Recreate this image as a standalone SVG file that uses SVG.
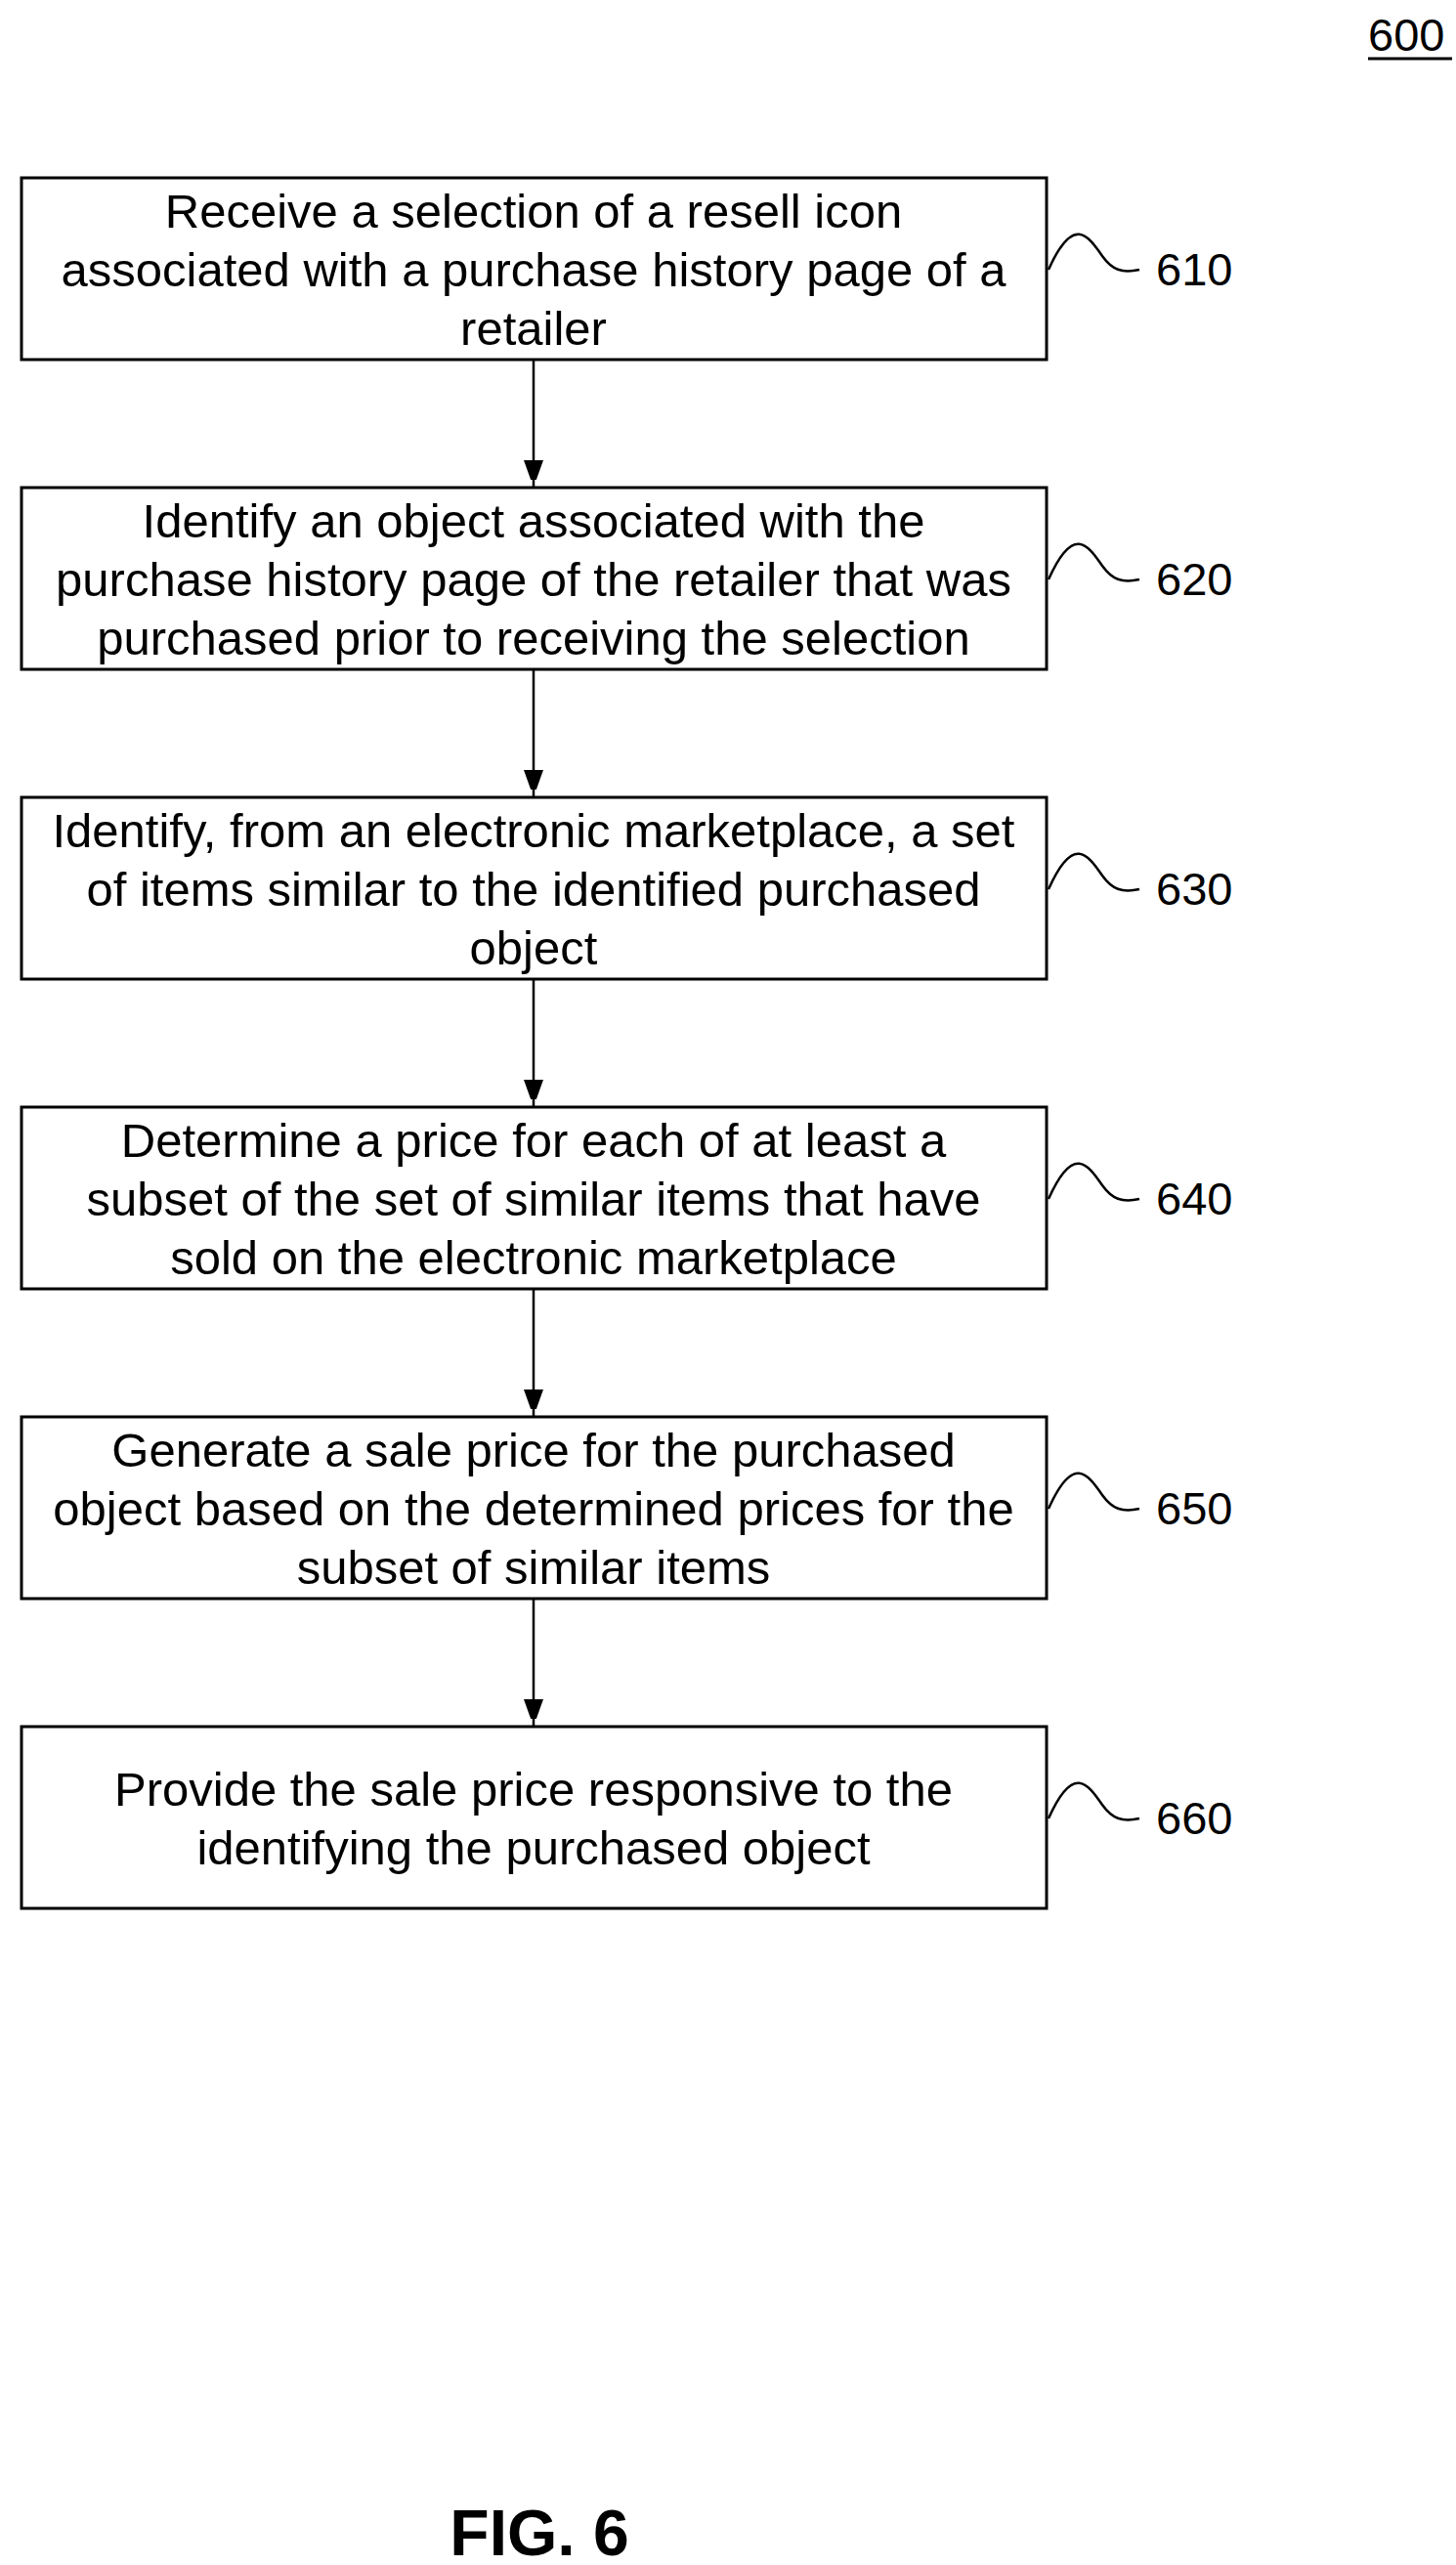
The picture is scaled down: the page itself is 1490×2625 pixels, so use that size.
<svg xmlns="http://www.w3.org/2000/svg" width="1490" height="2625" viewBox="0 0 1490 2625">
<style>
.b{fill:#fff;stroke:#000;stroke-width:3}
.t{font-family:"Liberation Sans",Arial,sans-serif;font-size:49px;text-anchor:middle;fill:#000}
.l{font-family:"Liberation Sans",Arial,sans-serif;font-size:47px;fill:#000}
.s{fill:none;stroke:#000;stroke-width:2.5}
.c{stroke:#000;stroke-width:2.5;fill:none}
</style>
<defs><marker id="a" markerWidth="20" markerHeight="28" refX="28" refY="10" orient="auto" markerUnits="userSpaceOnUse"><path d="M0,0 L28,10 L0,20 z" fill="#000"/></marker></defs>
<rect width="1490" height="2625" fill="#fff"/>
<text class="l" x="1400" y="52">600</text>
<line x1="1400" y1="60" x2="1486" y2="60" stroke="#000" stroke-width="3"/>
<g id="connectors">
<line class="c" x1="546" y1="368" x2="546" y2="499" marker-end="url(#a)"/>
<line class="c" x1="546" y1="685" x2="546" y2="816" marker-end="url(#a)"/>
<line class="c" x1="546" y1="1002" x2="546" y2="1133" marker-end="url(#a)"/>
<line class="c" x1="546" y1="1319" x2="546" y2="1450" marker-end="url(#a)"/>
<line class="c" x1="546" y1="1636" x2="546" y2="1767" marker-end="url(#a)"/>
</g>
<g id="n610"><rect class="b" x="22" y="182" width="1049" height="186"/>
<text class="t"><tspan x="546" y="233">Receive a selection of a resell icon</tspan><tspan x="546" y="293">associated with a purchase history page of a</tspan><tspan x="546" y="353">retailer</tspan></text>
<path class="s" d="M1073,276 C1098,220 1113,240 1128,262 C1138,276 1148,280 1166,276"/><text class="l" x="1183" y="292">610</text></g>
<g id="n620"><rect class="b" x="22" y="499" width="1049" height="186"/>
<text class="t"><tspan x="546" y="550">Identify an object associated with the</tspan><tspan x="546" y="610">purchase history page of the retailer that was</tspan><tspan x="546" y="670">purchased prior to receiving the selection</tspan></text>
<path class="s" d="M1073,593 C1098,537 1113,557 1128,579 C1138,593 1148,597 1166,593"/><text class="l" x="1183" y="609">620</text></g>
<g id="n630"><rect class="b" x="22" y="816" width="1049" height="186"/>
<text class="t"><tspan x="546" y="867">Identify, from an electronic marketplace, a set</tspan><tspan x="546" y="927">of items similar to the identified purchased</tspan><tspan x="546" y="987">object</tspan></text>
<path class="s" d="M1073,910 C1098,854 1113,874 1128,896 C1138,910 1148,914 1166,910"/><text class="l" x="1183" y="926">630</text></g>
<g id="n640"><rect class="b" x="22" y="1133" width="1049" height="186"/>
<text class="t"><tspan x="546" y="1184">Determine a price for each of at least a</tspan><tspan x="546" y="1244">subset of the set of similar items that have</tspan><tspan x="546" y="1304">sold on the electronic marketplace</tspan></text>
<path class="s" d="M1073,1227 C1098,1171 1113,1191 1128,1213 C1138,1227 1148,1231 1166,1227"/><text class="l" x="1183" y="1243">640</text></g>
<g id="n650"><rect class="b" x="22" y="1450" width="1049" height="186"/>
<text class="t"><tspan x="546" y="1501">Generate a sale price for the purchased</tspan><tspan x="546" y="1561">object based on the determined prices for the</tspan><tspan x="546" y="1621">subset of similar items</tspan></text>
<path class="s" d="M1073,1544 C1098,1488 1113,1508 1128,1530 C1138,1544 1148,1548 1166,1544"/><text class="l" x="1183" y="1560">650</text></g>
<g id="n660"><rect class="b" x="22" y="1767" width="1049" height="186"/>
<text class="t"><tspan x="546" y="1848">Provide the sale price responsive to the</tspan><tspan x="546" y="1908">identifying the purchased object</tspan></text>
<path class="s" d="M1073,1861 C1098,1805 1113,1825 1128,1847 C1138,1861 1148,1865 1166,1861"/><text class="l" x="1183" y="1877">660</text></g>
<text x="552" y="2615" font-family="Liberation Sans,Arial,sans-serif" font-size="66" font-weight="bold" text-anchor="middle">FIG. 6</text>
</svg>
